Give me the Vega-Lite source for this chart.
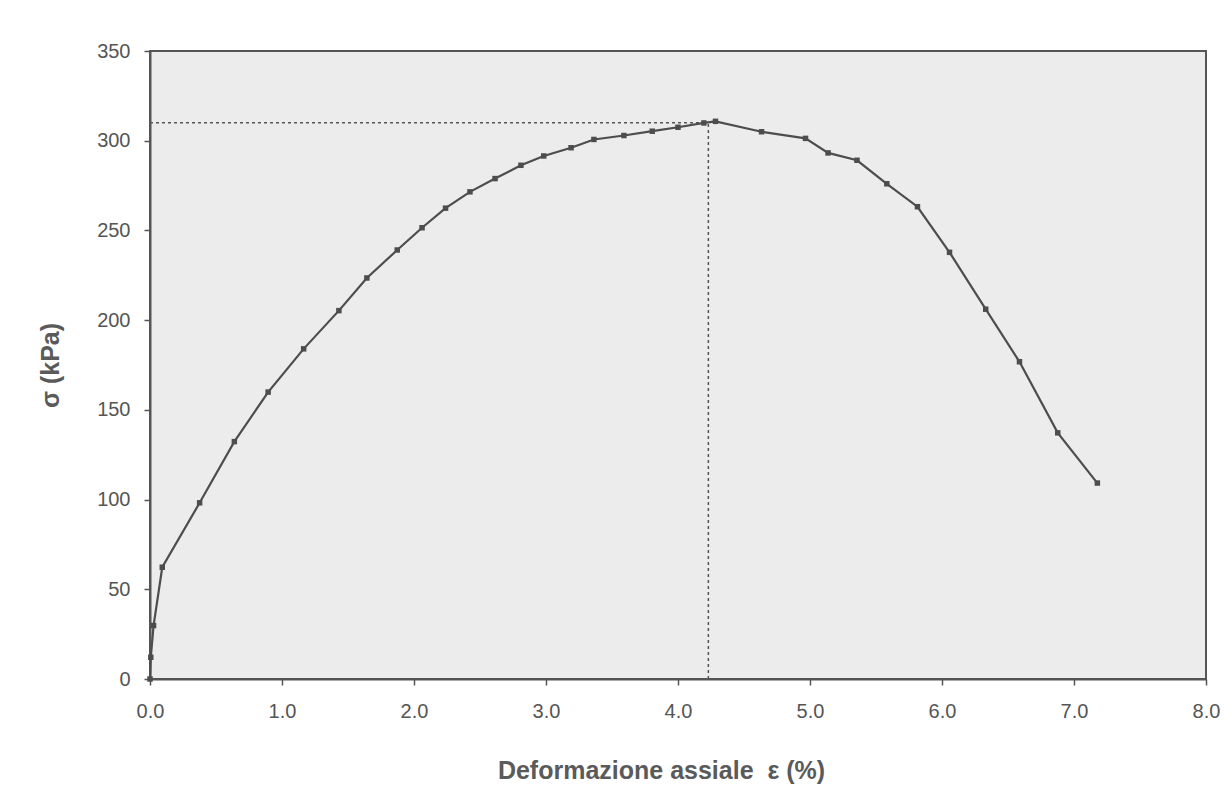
{
  "$schema": "https://vega.github.io/schema/vega-lite/v6.json",
  "autosize": "none",
  "width": 1056,
  "height": 628,
  "padding": {"left": 150, "top": 51, "right": 26, "bottom": 117},
  "background": "white",
  "config": {
    "font": "Liberation Sans",
    "view": {"stroke": "#555555", "strokeWidth": 2, "fill": "#ececec"},
    "axis": {
      "grid": false,
      "domainColor": "#555555",
      "domainWidth": 2,
      "tickColor": "#555555",
      "tickWidth": 1.5,
      "tickSize": 6,
      "labelFlush": false,
      "labelFont": "Liberation Sans",
      "labelFontSize": 20,
      "labelColor": "#555555",
      "titleFont": "Liberation Sans",
      "titleFontSize": 25,
      "titleFontWeight": "bold",
      "titleColor": "#5a5a5a"
    }
  },
  "datasets": {
    "curve": [
      {"eps": 0.0, "sigma": 0.0},
      {"eps": 0.006, "sigma": 12.1},
      {"eps": 0.027, "sigma": 29.8},
      {"eps": 0.093, "sigma": 62.3},
      {"eps": 0.376, "sigma": 98.2},
      {"eps": 0.639, "sigma": 132.3},
      {"eps": 0.895, "sigma": 159.9},
      {"eps": 1.164, "sigma": 184.0},
      {"eps": 1.431, "sigma": 205.3},
      {"eps": 1.643, "sigma": 223.5},
      {"eps": 1.873, "sigma": 239.1},
      {"eps": 2.061, "sigma": 251.5},
      {"eps": 2.239, "sigma": 262.4},
      {"eps": 2.424, "sigma": 271.5},
      {"eps": 2.614, "sigma": 278.9},
      {"eps": 2.81, "sigma": 286.3},
      {"eps": 2.983, "sigma": 291.5},
      {"eps": 3.19, "sigma": 296.1},
      {"eps": 3.363, "sigma": 300.7},
      {"eps": 3.59, "sigma": 302.9},
      {"eps": 3.805, "sigma": 305.3},
      {"eps": 4.0, "sigma": 307.5},
      {"eps": 4.196, "sigma": 309.9},
      {"eps": 4.284, "sigma": 310.8},
      {"eps": 4.633, "sigma": 305.0},
      {"eps": 4.966, "sigma": 301.3},
      {"eps": 5.137, "sigma": 293.2},
      {"eps": 5.356, "sigma": 289.1},
      {"eps": 5.582, "sigma": 276.0},
      {"eps": 5.814, "sigma": 263.2},
      {"eps": 6.057, "sigma": 237.8},
      {"eps": 6.331, "sigma": 206.1},
      {"eps": 6.587, "sigma": 176.8},
      {"eps": 6.877, "sigma": 137.2},
      {"eps": 7.177, "sigma": 109.2}
    ],
    "guides": [
      {"x": 0, "x2": 4.23, "y": 310, "y2": 310},
      {"x": 4.23, "x2": 4.23, "y": 0, "y2": 310}
    ]
  },
  "layer": [
    {
      "data": {"name": "guides"},
      "mark": {"type": "rule", "color": "#555555", "strokeWidth": 1.5, "strokeDash": [3, 3]},
      "encoding": {
        "x": {"field": "x", "type": "quantitative", "scale": {"domain": [0, 8]}},
        "x2": {"field": "x2"},
        "y": {"field": "y", "type": "quantitative", "scale": {"domain": [0, 350]}},
        "y2": {"field": "y2"}
      }
    },
    {
      "data": {"name": "curve"},
      "mark": {"type": "line", "color": "#4d4d4d", "strokeWidth": 2.2, "interpolate": "linear",
               "point": {"shape": "square", "size": 30, "filled": true, "color": "#4d4d4d"}},
      "encoding": {
        "x": {
          "field": "eps", "type": "quantitative", "sort": null,
          "scale": {"domain": [0, 8], "nice": false, "zero": false},
          "axis": {
            "values": [0, 1, 2, 3, 4, 5, 6, 7, 8],
            "format": ".1f",
            "labelPadding": 16,
            "title": "Deformazione assiale \u00a0ε (%)",
            "titleBaseline": "alphabetic",
            "titleX": 511,
            "titleY": 99
          }
        },
        "y": {
          "field": "sigma", "type": "quantitative",
          "scale": {"domain": [0, 350], "nice": false},
          "axis": {
            "values": [0, 50, 100, 150, 200, 250, 300, 350],
            "labelPadding": 14,
            "title": "σ (kPa)",
            "titleBaseline": "alphabetic",
            "titleX": -92
          }
        },
        "order": {"field": "eps", "type": "quantitative"}
      }
    }
  ]
}
